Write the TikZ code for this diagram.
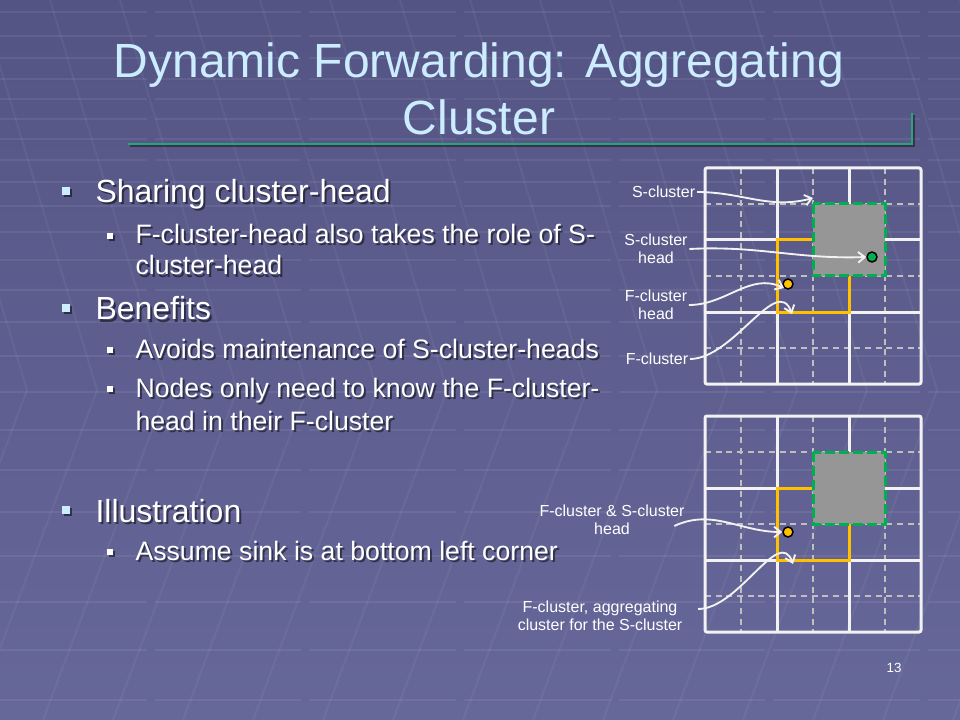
\documentclass[tikz,border=0pt]{standalone}
\usepackage{fontspec}
\setmainfont{Liberation Sans}
\usetikzlibrary{arrows.meta,positioning}

\definecolor{bgtop}{RGB}{84,84,132}
\definecolor{bgbot}{RGB}{103,104,154}
\definecolor{titleblue}{RGB}{204,236,255}
\definecolor{titlegreen}{RGB}{41,163,120}
\definecolor{fyellow}{RGB}{255,192,0}
\definecolor{sgreen}{RGB}{0,176,80}
\definecolor{sgrey}{RGB}{150,150,150}

\tikzset{every picture/.style={line width=0.75pt}}
\tikzset{
  bgline/.style={draw=white, opacity=0.05, line width=1.5pt},
  titletext/.style={font=\fontsize{36}{43}\selectfont, text=titleblue, anchor=base, inner sep=0pt},
  onetext/.style={font=\fontsize{24}{29}\selectfont, text=white, anchor=base west, inner sep=0pt},
  twotext/.style={font=\fontsize{20}{24}\selectfont, text=white, anchor=base west, inner sep=0pt},
  shadow/.style={text=black, opacity=0.5},
  lbl/.style={font=\fontsize{12}{13.5}\selectfont, text=white, align=center, inner sep=1pt},
  gridline/.style={draw=white!95!black, line width=2.25pt},
  halfline/.style={draw=white!75!black, line width=1.1pt, dash pattern=on 4.5pt off 3.5pt},
  fbox/.style={draw=fyellow, line width=2.25pt},
  sbox/.style={fill=sgrey, draw=sgreen, line width=2.25pt, dash pattern=on 7.5pt off 3pt},
  headdot/.style={circle, draw=black, line width=1.1pt, inner sep=0pt, minimum size=7.5pt},
  callout/.style={draw=white!95!black, line width=1.4pt, -{Straight Barb[length=5pt,width=8pt]}},
}

% one 3x3 cluster grid, top left corner at (#1,#2)
\newcommand{\clustergrid}[2]{%
  \foreach \k in {36,108,180} {
    \draw[halfline] (#1+\k,#2) -- (#1+\k,#2+216);
    \draw[halfline] (#1,#2+\k) -- (#1+216,#2+\k);
  }
  \foreach \k in {72,144} {
    \draw[gridline] (#1+\k,#2) -- (#1+\k,#2+216);
    \draw[gridline] (#1,#2+\k) -- (#1+216,#2+\k);
  }
  \draw[gridline, rounded corners=1.5pt] (#1,#2) rectangle (#1+216,#2+216);
  \draw[fbox] (#1+72,#2+72) rectangle (#1+144,#2+144);
  \draw[sbox] (#1+108,#2+36) rectangle (#1+180,#2+108);
}

\begin{document}
\begin{tikzpicture}[x=0.75pt,y=0.75pt,yscale=-1,xscale=1]
\useasboundingbox (0,0) rectangle (960,720);
\clip (0,0) rectangle (960,720);

%Background
\shade[top color=bgtop, bottom color=bgbot] (0,0) rectangle (960,720);
\foreach \y in {12,36,58,79,99,119,139,160,182,206,232,260,290,322,356,392,430,470,512,556,602,650,700}
  \draw[bgline, opacity=0.07, dash pattern=on 110pt off 6pt] (0,\y) -- (960,\y);
\foreach \x in {-160,-90,...,1000}
  \draw[bgline] (\x,0) -- (\x+117,390) -- (\x-7,720);

%Title
\draw (479,78) node [titletext] (title1) {Dynamic Forwarding: Aggregating};
\draw (479,135) node [titletext] (title2) {Cluster};
\draw [black, opacity=0.4, line width=1.5pt] (130,146) -- (914,146) -- (914,115);
\draw [titlegreen, line width=1.5pt] (128,144) -- (912,144) -- (912,113);

%First level bullets
\foreach \y/\t [count=\i] in {203/Sharing cluster-head,320/Benefits,522/Illustration} {
  \fill [black, opacity=0.5] (64,\y-14) rectangle (72,\y-6);
  \fill [titleblue] (62,\y-16) rectangle (70,\y-8);
  \draw (97,\y+2) node [onetext, shadow] {\t};
  \draw (95,\y) node [onetext] (one\i) {\t};
}

%Second level bullets
\foreach \y in {244,358,397,560} {
  \fill [black, opacity=0.5] (109,\y-9) rectangle (115,\y-3);
  \fill [white] (107,\y-11) rectangle (113,\y-5);
}
\foreach \y/\t [count=\i] in {244/F-cluster-head also takes the role of S-,275/cluster-head,358/Avoids maintenance of S-cluster-heads,397/Nodes only need to know the F-cluster-,430/head in their F-cluster,560/Assume sink is at bottom left corner} {
  \draw (137,\y+2) node [twotext, shadow] {\t};
  \draw (135,\y) node [twotext] (two\i) {\t};
}

%Grids
\clustergrid{705}{168}
\clustergrid{705}{416}

%Cluster heads
\node [headdot, fill=fyellow] (fchead) at (788,284) {};
\node [headdot, fill=sgreen] (schead) at (872,257) {};
\node [headdot, fill=fyellow] (fshead) at (788,532) {};

% Text Node
\node [lbl, anchor=east] (lblsc) at (697,192) {S-cluster};
% Text Node
\node [lbl] (lblsch) at (656,249) {S-cluster\\head};
% Text Node
\node [lbl] (lblfch) at (656,305) {F-cluster\\head};
% Text Node
\node [lbl] (lblfc) at (657,359) {F-cluster};
% Text Node
\node [lbl] (lblfsh) at (612,520) {F-cluster \& S-cluster\\head};
% Text Node
\node [lbl] (lblagg) at (600,616) {F-cluster, aggregating\\cluster for the S-cluster};
% Text Node
\node [font=\fontsize{10}{12}\selectfont, text=white] (pagenum) at (894,668) {13};

%Callouts
\coordinate (sctip) at (813,198);
\coordinate (fctip) at (792,314);
\coordinate (aggtip) at (793,564);
\draw [callout] (lblsc.east) to[out=0, in=165] (sctip);
\draw [callout] (lblsch.east) to[out=-3, in=178] (schead.west);
\draw [callout] (lblfch.east) to[out=0, in=205] (fchead.south west);
\draw [callout] (lblfc.east) to[out=0, in=250] (fctip);
\draw [callout] (lblfsh.east) ++(-12,6) to[out=-25, in=180] (fshead.west);
\draw [callout] (lblagg.east) ++(14,-7) to[out=0, in=250] (aggtip);

\end{tikzpicture}
\end{document}
